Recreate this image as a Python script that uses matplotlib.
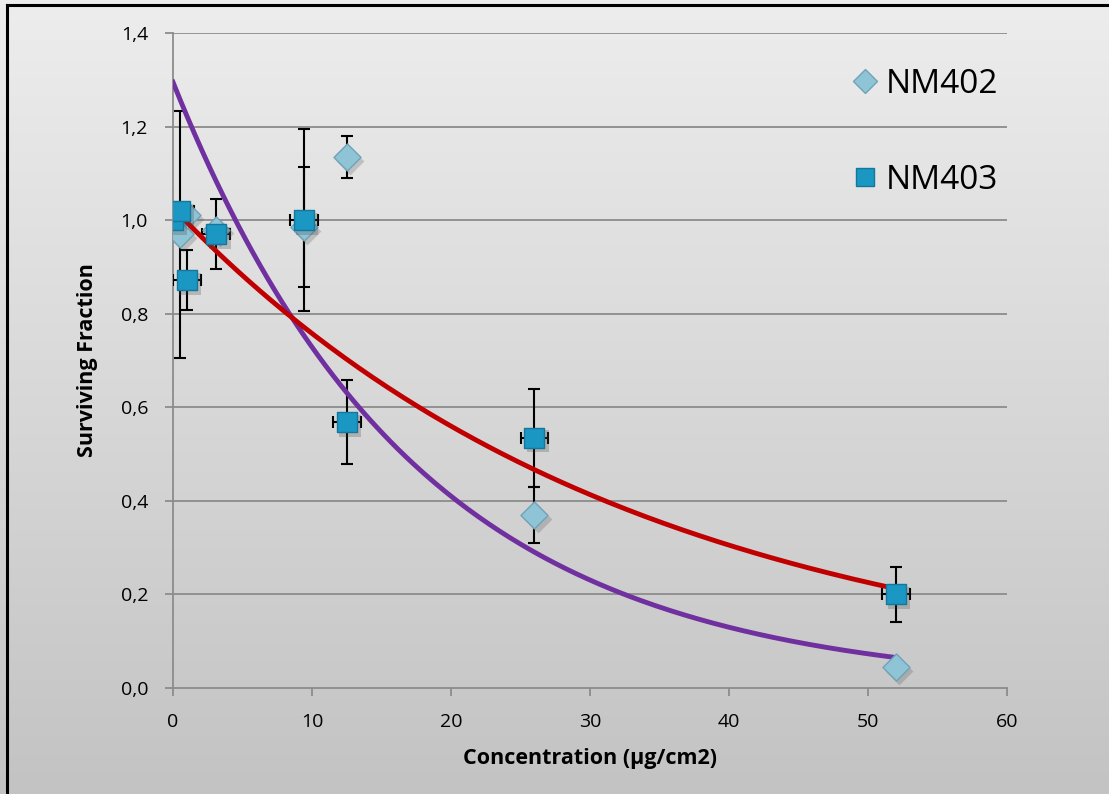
import numpy as np
import matplotlib
matplotlib.use('Agg')
import matplotlib.pyplot as plt
from matplotlib.lines import Line2D

# NM402 (diamonds)
x402 = [0, 0.5, 1.0, 3.1, 9.4, 12.5, 26.0, 52.0]
y402 = [1.0, 0.97, 1.01, 0.98, 0.985, 1.135, 0.37, 0.045]
e402 = [0.0, 0.264, 0.0, 0.0, 0.128, 0.045, 0.06, 0.0]

# NM403 (squares)
x403 = [0, 0.5, 1.0, 3.1, 9.4, 12.5, 26.0, 52.0]
y403 = [1.0, 1.02, 0.872, 0.97, 1.0, 0.568, 0.535, 0.2]
e403 = [0.0, 0.0, 0.064, 0.075, 0.195, 0.09, 0.105, 0.058]
xe403 = [1.0, 1.0, 1.0, 1.0, 1.0, 1.0, 1.0, 1.0]

# exponential trendlines  y = a * exp(-k x)
fit402 = (1.295, 0.0575)
fit403 = (1.026, 0.0303)

yticks = [0.0, 0.2, 0.4, 0.6, 0.8, 1.0, 1.2, 1.4]
ylabels = ['0,0', '0,2', '0,4', '0,6', '0,8', '1,0', '1,2', '1,4']
xticks = [0, 10, 20, 30, 40, 50, 60]

plt.rcParams['font.family'] = ['Open Sans', 'DejaVu Sans']

fig = plt.figure(figsize=(11.09, 7.94), dpi=100)

# gradient background for the whole chart area
bg = fig.add_axes([0, 0, 1, 1], zorder=-10)
grad = np.linspace(0, 1, 256).reshape(-1, 1)
bg.imshow(grad, aspect='auto', cmap=matplotlib.colors.LinearSegmentedColormap.from_list(
    'g', ['#ededed', '#c3c3c3']), extent=[0, 1, 0, 1], origin='upper')
bg.set_xlim(0, 1)
bg.set_ylim(0, 1)
bg.axis('off')
# border (left and top only visible)
bg.plot([7 / 1109, 7 / 1109], [0, 1 - 5 / 794], color='black', lw=2.2)
bg.plot([7 / 1109, 1], [1 - 5 / 794, 1 - 5 / 794], color='black', lw=2.2)

ax = fig.add_axes([173 / 1109, 1 - 688 / 794, (1007 - 173) / 1109, (688 - 33) / 794])
ax.set_facecolor('none')
ax.set_xlim(0, 60)
ax.set_ylim(0, 1.4)

for yv in yticks[1:]:
    ax.axhline(yv, color='#8c8c8c', lw=1.3, zorder=1)

for s in ['top', 'right']:
    ax.spines[s].set_visible(False)
for s in ['left', 'bottom']:
    ax.spines[s].set_color('#8c8c8c')
    ax.spines[s].set_linewidth(1.3)

ax.set_yticks(yticks)
ax.set_yticklabels(ylabels)
ax.set_xticks(xticks)
ax.tick_params(axis='both', labelsize=14, colors='#8c8c8c', labelcolor='black', length=6, width=1.3)
ax.tick_params(axis='y', direction='out', pad=12)
ax.tick_params(axis='x', pad=12)

# error bars
ax.errorbar(x402, y402, yerr=e402, fmt='none', ecolor='black', elinewidth=1.5,
            capsize=4, capthick=1.5, zorder=3)
ax.errorbar(x403, y403, yerr=e403, xerr=xe403, fmt='none', ecolor='black', elinewidth=1.5,
            capsize=4, capthick=1.5, zorder=3)

# trendlines
xf = np.linspace(0, 52, 200)
ax.plot(xf, fit402[0] * np.exp(-fit402[1] * xf), color='#7030a0', lw=3.5, zorder=4)
ax.plot(xf, fit403[0] * np.exp(-fit403[1] * xf), color='#c00000', lw=3.5, zorder=6)

# markers with soft shadow
ax.scatter(np.array(x402) + 0.25, np.array(y402) - 0.008, marker='D', s=200, color='#555555',
           alpha=0.25, linewidths=0, zorder=4.5)
ax.scatter(x402, y402, marker='D', s=190, color='#8fc3d6', edgecolors='#6fa3b8',
           linewidths=1, zorder=5)
ax.scatter(np.array(x403) + 0.25, np.array(y403) - 0.008, marker='s', s=230, color='#444444',
           alpha=0.25, linewidths=0, zorder=6.5)
ax.scatter(x403, y403, marker='s', s=215, color='#1b97c4', edgecolors='#15779c',
           linewidths=1, zorder=7)

ax.set_xlabel('Concentration (µg/cm2)', fontsize=15.5, fontweight='bold', labelpad=12)
ax.set_ylabel('Surviving Fraction', fontsize=15.5, fontweight='bold', labelpad=16)

h402 = Line2D([], [], marker='D', ls='none', markersize=12, color='#8fc3d6',
              markeredgecolor='#6fa3b8')
h403 = Line2D([], [], marker='s', ls='none', markersize=13, color='#1b97c4',
              markeredgecolor='#15779c')
leg = ax.legend([h402, h403], ['NM402', 'NM403'], loc='upper right',
                bbox_to_anchor=(1.025, 0.993), fontsize=24, frameon=False,
                handletextpad=0.1, labelspacing=1.9, handlelength=1.0)
leg.set_zorder(10)

fig.savefig('out.png', dpi=100)
